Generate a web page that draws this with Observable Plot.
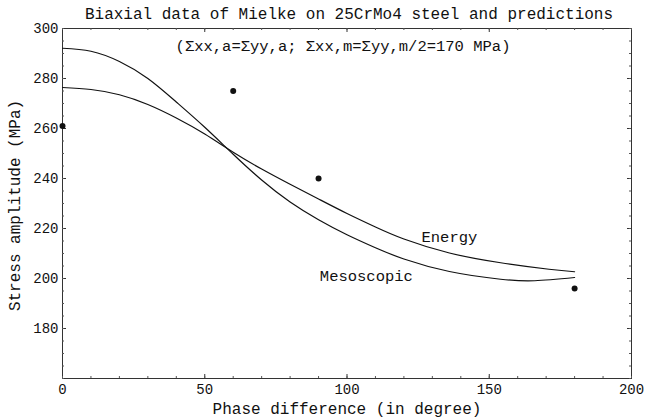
<!DOCTYPE html>
<html>
<head>
<meta charset="utf-8">
<script src="https://cdn.jsdelivr.net/npm/d3@7"></script>
<script src="https://cdn.jsdelivr.net/npm/@observablehq/plot@0.6"></script>
<style>
  html, body { margin: 0; padding: 0; background: #fff; }
</style>
</head>
<body>
<div id="chart"></div>
<script>
const titleText = "Biaxial data of Mielke on 25CrMo4 steel and predictions";
const noteText = "(\u03A3xx,a=\u03A3yy,a; \u03A3xx,m=\u03A3yy,m/2=170 MPa)";
const xTitle = "Phase difference (in degree)";
const yTitle = "Stress amplitude (MPa)";

const phaseTicks = [0, 50, 100, 150, 200];
const stressTicks = [180, 200, 220, 240, 260, 280, 300];
const phaseMinor = d3.range(0, 201, 10);
const stressMinor = d3.range(160, 301, 5);

// Experimental data (Mielke)
const dataPhase = [0, 60, 90, 180];
const dataStress = [261, 275, 240, 196];

// Mesoscopic prediction
const mesoPhase = [0, 10, 20, 30, 40, 50, 60, 70, 80, 90, 100, 110, 120, 136, 154, 166, 180];
const mesoStress = [292.1, 290.9, 286.8, 280, 270.6, 260.5, 249.7, 239.4, 230.6, 223.5, 217.5, 212.3, 207.8, 202.8, 199.7, 199.1, 200.4];

// Energy prediction
const energyPhase = [0, 10, 20, 30, 40, 50, 60, 70, 80, 90, 100, 110, 120, 136, 154, 171, 180];
const energyStress = [276.4, 275.6, 273.5, 269.6, 264.2, 257.8, 250.5, 243.8, 237.7, 231.8, 226, 220.6, 215.8, 210.2, 206.3, 203.7, 202.7];

// Curve labels
const curveLabels = ["Energy", "Mesoscopic"];
const labelPhase = [136, 106.8];
const labelStress = [216.6, 201];

const W = 646, H = 418;
const mT = 28, mB = 40, mL = 62, mR = 15;
const fw = W - mL - mR, fh = H - mT - mB;
const ink = "#111";
const font = "'Courier New', 'Liberation Mono', 'DejaVu Sans Mono', monospace";

const chart = Plot.plot({
  width: W, height: H,
  marginTop: mT, marginBottom: mB, marginLeft: mL, marginRight: mR,
  x: {domain: [0, 200]},
  y: {domain: [160, 300]},
  style: {fontFamily: font, fontSize: "14px", background: "#fff", color: ink},
  marks: [
    Plot.frame({stroke: "#333", strokeWidth: 1}),
    // inward ticks
    Plot.tickX(phaseTicks, {x: d => d, insetTop: fh - 4, stroke: "#333"}),
    Plot.tickX(phaseTicks, {x: d => d, insetBottom: fh - 4, stroke: "#333"}),
    Plot.tickX(phaseMinor, {x: d => d, insetTop: fh - 2, stroke: "#555"}),
    Plot.tickX(phaseMinor, {x: d => d, insetBottom: fh - 2, stroke: "#555"}),
    Plot.tickY(stressTicks, {y: d => d, insetRight: fw - 4, stroke: "#333"}),
    Plot.tickY(stressTicks, {y: d => d, insetLeft: fw - 4, stroke: "#333"}),
    Plot.tickY(stressMinor, {y: d => d, insetRight: fw - 2, stroke: "#555"}),
    Plot.tickY(stressMinor, {y: d => d, insetLeft: fw - 2, stroke: "#555"}),
    Plot.axisX({ticks: phaseTicks, tickSize: 0, tickPadding: 6, label: null, fontSize: 14}),
    Plot.axisY({ticks: stressTicks, tickSize: 0, tickPadding: 4, label: null, fontSize: 14}),
    // curves
    Plot.line(mesoStress, {x: mesoPhase, y: mesoStress, curve: "natural", stroke: ink, strokeWidth: 1.2}),
    Plot.line(energyStress, {x: energyPhase, y: energyStress, curve: "natural", stroke: ink, strokeWidth: 1.2}),
    // data
    Plot.dot(dataStress, {x: dataPhase, y: dataStress, r: 3, fill: ink, stroke: "none", clip: false}),
    // curve labels
    Plot.text(curveLabels, {x: labelPhase, y: labelStress, text: d => d, fontSize: 15.5, fill: ink}),
    // annotation
    Plot.text([noteText], {frameAnchor: "top", lineAnchor: "middle", textAnchor: "middle", dx: -4, dy: 18, fontSize: 15.5, fill: ink}),
    // titles
    Plot.text([titleText], {frameAnchor: "top", lineAnchor: "middle", textAnchor: "middle", dx: 2, dy: -15, fontSize: 16, fill: ink}),
    Plot.text([xTitle], {frameAnchor: "bottom", lineAnchor: "middle", textAnchor: "middle", dx: 0, dy: 30, fontSize: 16, fill: ink}),
    Plot.text([yTitle], {frameAnchor: "left", lineAnchor: "middle", textAnchor: "middle", dx: -48, dy: 2, rotate: -90, fontSize: 16, fill: ink})
  ]
});
document.getElementById("chart").appendChild(chart);
</script>
</body>
</html>
